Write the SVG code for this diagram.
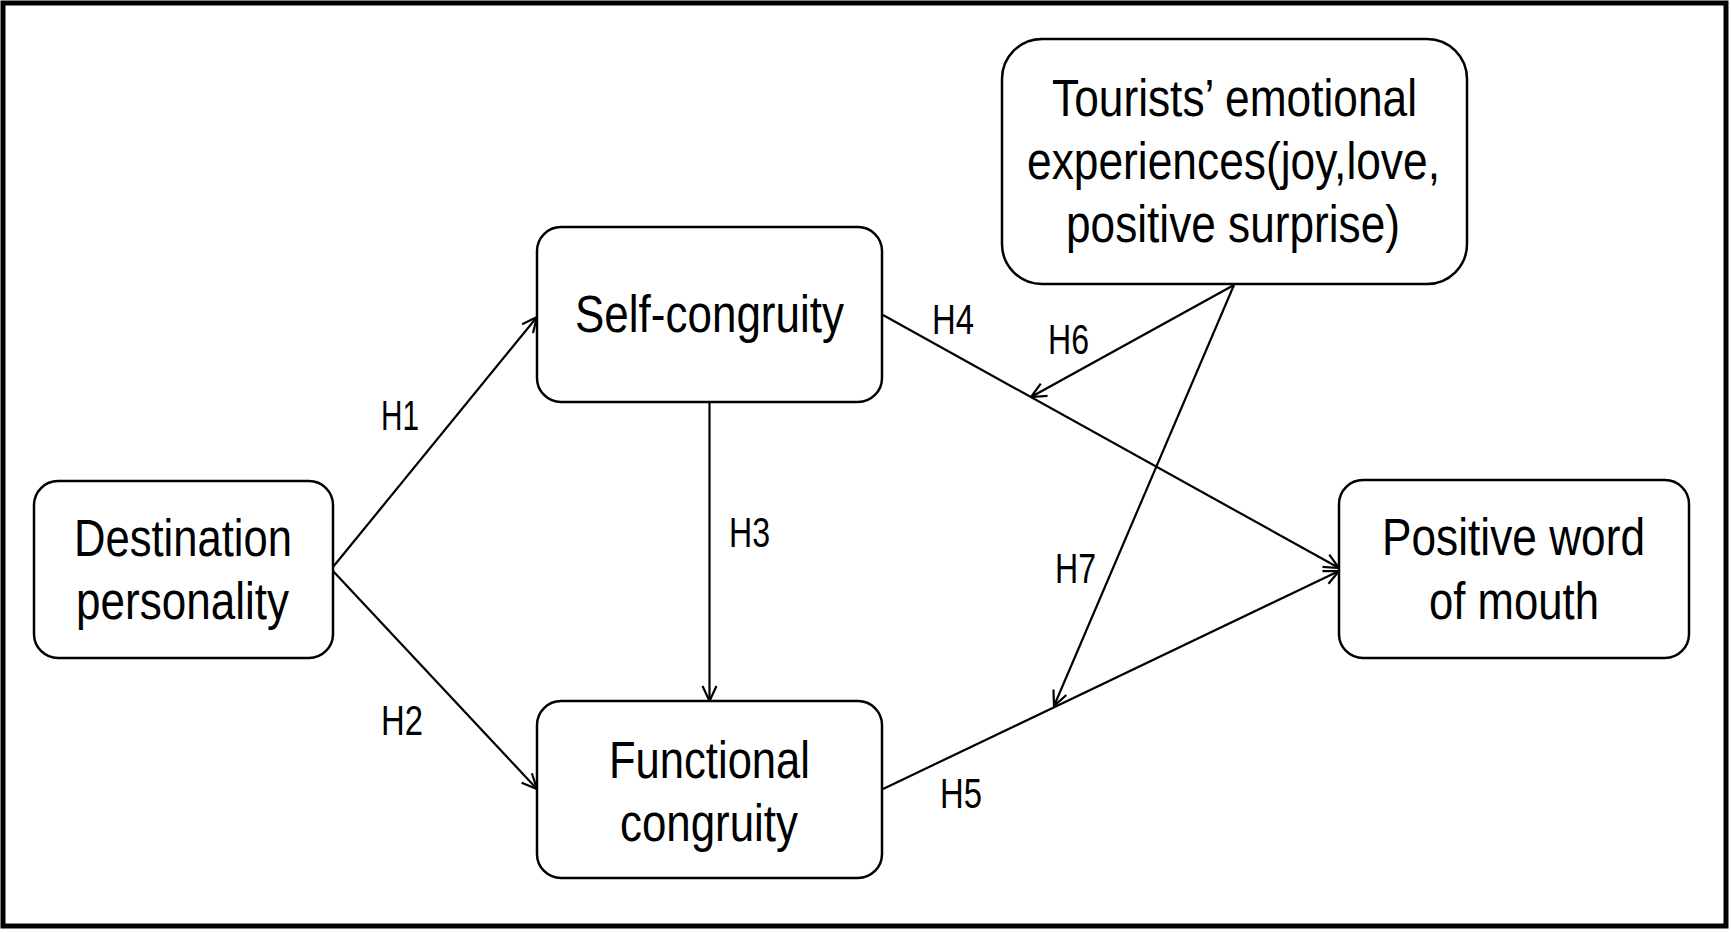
<svg xmlns="http://www.w3.org/2000/svg" width="1731" height="933" viewBox="0 0 1731 933">
<style>
.node rect{fill:#fff;stroke:#000;stroke-width:2.5}
.node text{font-family:"Liberation Sans",Arial,sans-serif;font-size:51px;fill:#000}
.lbl{font-family:"Liberation Sans",Arial,sans-serif;font-size:42px;fill:#000}
.conn line{stroke:#000;stroke-width:2.2;fill:none}
</style>
<defs>
<marker id="arr" markerUnits="userSpaceOnUse" viewBox="0 0 18 18" refX="17" refY="9" markerWidth="18" markerHeight="18" orient="auto">
<path d="M2,2 L17,9 L2,16" fill="none" stroke="#000" stroke-width="2.2"/>
</marker>
</defs>
<rect x="0" y="0" width="1731" height="933" fill="#fff"/>
<rect x="3" y="3" width="1723" height="923" fill="none" stroke="#000" stroke-width="5"/>
<g id="connectors" class="conn">
<line x1="333" y1="567" x2="537" y2="317" marker-end="url(#arr)"/>
<line x1="333" y1="571" x2="537" y2="789" marker-end="url(#arr)"/>
<line x1="709.5" y1="402" x2="709.5" y2="701" marker-end="url(#arr)"/>
<line x1="883" y1="315" x2="1339" y2="568" marker-end="url(#arr)"/>
<line x1="883" y1="789" x2="1339" y2="571" marker-end="url(#arr)"/>
<line x1="1234" y1="285" x2="1031" y2="397" marker-end="url(#arr)"/>
<line x1="1234" y1="285" x2="1054" y2="706" marker-end="url(#arr)"/>
</g>
<g id="labels">
<text class="lbl" x="381" y="430" textLength="38" lengthAdjust="spacingAndGlyphs">H1</text>
<text class="lbl" x="381" y="735" textLength="42" lengthAdjust="spacingAndGlyphs">H2</text>
<text class="lbl" x="729" y="547" textLength="41" lengthAdjust="spacingAndGlyphs">H3</text>
<text class="lbl" x="932" y="334" textLength="42" lengthAdjust="spacingAndGlyphs">H4</text>
<text class="lbl" x="940" y="808" textLength="42" lengthAdjust="spacingAndGlyphs">H5</text>
<text class="lbl" x="1048" y="354" textLength="41" lengthAdjust="spacingAndGlyphs">H6</text>
<text class="lbl" x="1055" y="583" textLength="41" lengthAdjust="spacingAndGlyphs">H7</text>
</g>
<g id="destination-personality" class="node">
<rect x="34" y="481" width="299" height="177" rx="24" ry="24"/>
<text x="74" y="556" textLength="218" lengthAdjust="spacingAndGlyphs">Destination</text>
<text x="76" y="619" textLength="213" lengthAdjust="spacingAndGlyphs">personality</text>
</g>
<g id="self-congruity" class="node">
<rect x="537" y="227" width="345" height="175" rx="24" ry="24"/>
<text x="575" y="332" textLength="269" lengthAdjust="spacingAndGlyphs">Self-congruity</text>
</g>
<g id="functional-congruity" class="node">
<rect x="537" y="701" width="345" height="177" rx="24" ry="24"/>
<text x="609" y="778" textLength="201" lengthAdjust="spacingAndGlyphs">Functional</text>
<text x="620" y="841" textLength="178" lengthAdjust="spacingAndGlyphs">congruity</text>
</g>
<g id="tourists-emotional-experiences" class="node">
<rect x="1002" y="39" width="465" height="245" rx="40" ry="40"/>
<text x="1052" y="116" textLength="365" lengthAdjust="spacingAndGlyphs">Tourists’ emotional</text>
<text x="1027" y="179" textLength="413" lengthAdjust="spacingAndGlyphs">experiences(joy,love,</text>
<text x="1066" y="242" textLength="334" lengthAdjust="spacingAndGlyphs">positive surprise)</text>
</g>
<g id="positive-word-of-mouth" class="node">
<rect x="1339" y="480" width="350" height="178" rx="24" ry="24"/>
<text x="1382" y="555" textLength="263" lengthAdjust="spacingAndGlyphs">Positive word</text>
<text x="1429" y="619" textLength="170" lengthAdjust="spacingAndGlyphs">of mouth</text>
</g>
</svg>
